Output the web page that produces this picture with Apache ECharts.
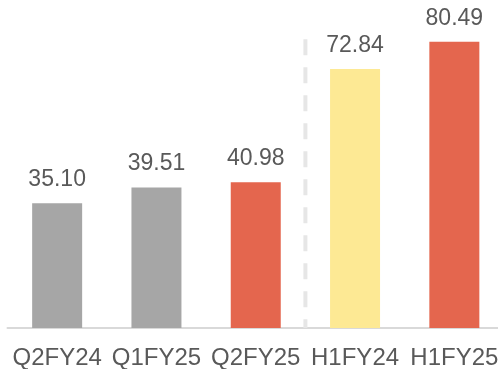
<!DOCTYPE html>
<html>
<head>
<meta charset="utf-8">
<script src="https://cdn.jsdelivr.net/npm/echarts@6/dist/echarts.min.js"></script>
<style>
  html, body { margin: 0; padding: 0; background: #ffffff; }
  #chart { width: 498px; height: 369px; }
</style>
</head>
<body>
<div id="chart"></div>
<script>
// Periods shown on the category axis
const categories = ['Q2FY24', 'Q1FY25', 'Q2FY25', 'H1FY24', 'H1FY25'];
// Reported values per period
const values = [35.10, 39.51, 40.98, 72.84, 80.49];
// Fill colour per bar: prior periods grey, current periods red, prior half-year yellow
const barColors = ['#a6a6a6', '#a6a6a6', '#e4664e', '#fde994', '#e4664e'];
// Dashed divider between quarterly and half-year bars (position on a 0..5 band scale, top value)
const dividerAt = 2.5;
const dividerTop = 81.2;

const chart = echarts.init(document.getElementById('chart'));

chart.setOption({
  animation: false,
  backgroundColor: '#ffffff',
  grid: { left: 7.5, width: 496.5, top: 8, bottom: 41, containLabel: false, outerBoundsMode: 'none' },
  xAxis: [
    {
      type: 'category',
      data: categories,
      axisLine: { show: true, lineStyle: { color: '#d9d9d9', width: 2 } },
      axisTick: { show: false },
      axisLabel: {
        interval: 0,
        color: '#595959',
        fontSize: 24,
        fontFamily: 'Liberation Sans, Arial, sans-serif',
        margin: 18
      }
    },
    {
      type: 'value',
      min: -0.5,
      max: 4.5,
      show: false
    }
  ],
  yAxis: {
    type: 'value',
    min: 0,
    max: 90,
    show: false,
    splitLine: { show: false }
  },
  series: [
    {
      type: 'bar',
      xAxisIndex: 0,
      barWidth: 50,
      data: values.map((v, i) => ({ value: v, itemStyle: { color: barColors[i] } })),
      label: {
        show: true,
        position: 'top',
        distance: 12,
        color: '#595959',
        fontSize: 23,
        fontFamily: 'Liberation Sans, Arial, sans-serif',
        formatter: p => p.value.toFixed(2)
      }
    },
    {
      type: 'line',
      xAxisIndex: 1,
      data: [[dividerAt, dividerTop], [dividerAt, 0]],
      symbol: 'none',
      silent: true,
      lineStyle: { color: '#e6e6e6', width: 4, type: [16, 12] },
      z: 1
    }
  ]
});
</script>
</body>
</html>
